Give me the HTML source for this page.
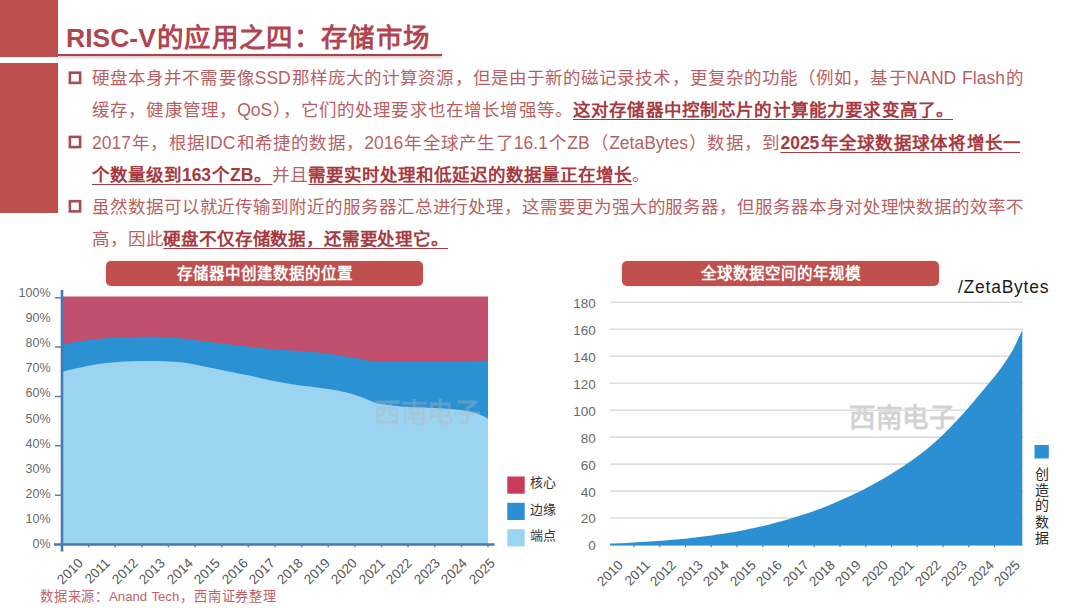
<!DOCTYPE html>
<html lang="zh-CN">
<head>
<meta charset="utf-8">
<title>RISC-V的应用之四：存储市场</title>
<style>
  html, body { margin: 0; padding: 0; background: #ffffff; }
  body { width: 1080px; height: 608px; overflow: hidden; font-family: "Liberation Sans", sans-serif; }
  #slide { position: relative; width: 1080px; height: 608px; background: #ffffff; overflow: hidden; }

  /* left decorative bar */
  .bar { position: absolute; left: 0; width: 58px; background: #c0504d; }
  .bar.top { top: 0; height: 56.8px; }
  .bar.main { top: 63.4px; height: 149.6px; }

  /* title */
  h1.title { position: absolute; margin: 0; left: 66px; top: 21px; width: 363px; height: 34px; line-height: 34px;
    font-size: 26.5px; font-weight: bold; color: #b24452; white-space: nowrap;
    text-align: justify; text-align-last: justify; }
  .title-rule { position: absolute; left: 58px; top: 53.5px; width: 384px; height: 2px; background: #a9434c;
    box-shadow: 0 1.5px 2.5px rgba(120,60,60,0.40); }

  /* bullet text */
  .line { position: absolute; left: 92px; height: 32px; line-height: 32px; font-size: 17.5px; color: #b85f64;
    white-space: nowrap; text-align: justify; text-align-last: justify; margin: 0; }
  .line b { color: #a63a40; font-weight: bold; text-decoration: underline; text-decoration-thickness: 1px;
    text-underline-offset: 3px; text-decoration-skip-ink: none; }

  /* chart captions */
  .pill { position: absolute; top: 261px; width: 317px; height: 25px; line-height: 25px; border-radius: 5px;
    background: #c0504d; box-shadow: 0 0 2.5px rgba(192,80,77,0.28); color: #ffffff; font-weight: bold; font-size: 15.5px; text-align: center; white-space: nowrap; }

  .ylab { position: absolute; font-size: 12.5px; color: #6a6a6a; text-align: right; height: 14px; line-height: 14px; white-space: nowrap; }
  .ylab.y2 { font-size: 13.5px; }
  .xlab { position: absolute; font-size: 13.5px; color: #575757; height: 14px; line-height: 14px; white-space: nowrap;
    transform-origin: 100% 50%; transform: rotate(-45deg); text-align: right; width: 40px; }
  .legend-sw { position: absolute; }
  .legend-tx { position: absolute; font-size: 13px; color: #333333; height: 16px; line-height: 16px; white-space: nowrap; }
  .legend-v { position: absolute; left: 1033.5px; width: 16px; text-align: center; font-size: 14px; color: #2b2b2b; height: 16px; line-height: 16px; }
  .wm { position: absolute; font-size: 26.5px; font-weight: bold; color: rgba(150,152,156,0.38); white-space: nowrap;
    height: 30px; line-height: 30px; width: 106px; text-align: justify; text-align-last: justify; }
  .wm.wm1 { color: rgba(178,180,190,0.40); }
  .wm.wm2 { color: #d2d2d5; }
  .unit { position: absolute; left: 958px; top: 275.7px; font-size: 17.5px; letter-spacing: 0.75px; color: #1c1c1c; height: 22px; line-height: 22px; white-space: nowrap; }
  .source { position: absolute; left: 40px; top: 588.5px; width: 236px; font-size: 13.2px; color: #c26266; height: 15px; line-height: 15px;
    white-space: nowrap; text-align: justify; text-align-last: justify; }
  svg { position: absolute; left: 0; top: 0; }
</style>
</head>
<body>
<div id="slide">
  <div class="bar top"></div>
  <div class="bar main"></div>

  <h1 class="title">RISC-V的应用之四：存储市场</h1>
  <div class="title-rule"></div>

  <!-- bullet 1 -->
  <p class="line" style="top:62px;width:931px">硬盘本身并不需要像SSD那样庞大的计算资源，但是由于新的磁记录技术，更复杂的功能（例如，基于NAND Flash的</p>
  <p class="line" style="top:94px;width:861px">缓存，健康管理，QoS），它们的处理要求也在增长增强等。<b>这对存储器中控制芯片的计算能力要求变高了。</b></p>
  <!-- bullet 2 -->
  <p class="line" style="top:126.5px;width:928px">2017年，根据IDC和希捷的数据，2016年全球产生了16.1个ZB（ZetaBytes）数据，到<b>2025年全球数据球体将增长一</b></p>
  <p class="line" style="top:158.5px;width:557px"><b>个数量级到163个ZB。</b>并且<b>需要实时处理和低延迟的数据量正在增长</b>。</p>
  <!-- bullet 3 -->
  <p class="line" style="top:191px;width:931px">虽然数据可以就近传输到附近的服务器汇总进行处理，这需要更为强大的服务器，但服务器本身对处理快数据的效率不</p>
  <p class="line" style="top:223px;width:356px">高，因此<b>硬盘不仅存储数据，还需要处理它。</b></p>

  <!-- CHARTS -->
  <div class="wm wm2" style="left:849px;top:403px">西南电子</div>
  <svg width="1080" height="608" viewBox="0 0 1080 608">
    <!-- chart 1: stacked area -->
    <rect x="62" y="296.5" width="426" height="248" fill="#c04f6d"/>
    <path id="c1-edge" fill="#2a91d2" d="M62.0,344.8 C64.5,344.3 70.6,342.7 76.7,341.7 C82.8,340.7 91.2,339.6 98.4,338.9 C105.6,338.2 112.8,337.7 120.1,337.3 C127.3,336.9 134.7,336.7 141.9,336.7 C149.2,336.7 156.4,336.7 163.6,337.1 C170.8,337.5 178.1,338.1 185.3,338.9 C192.5,339.7 199.8,340.8 207.0,341.7 C214.2,342.6 221.5,343.4 228.7,344.3 C235.9,345.2 243.5,346.1 250.4,346.9 C257.3,347.7 263.1,348.3 270.0,348.9 C276.9,349.5 284.5,349.9 291.7,350.4 C298.9,350.9 306.2,351.4 313.4,352.1 C320.6,352.8 327.9,353.7 335.1,354.7 C342.4,355.7 350.8,357.2 356.9,358.2 C363.0,359.2 364.8,360.3 372.0,360.9 C379.2,361.4 388.4,361.4 400.3,361.5 C412.2,361.6 429.1,361.6 443.7,361.5 C458.3,361.4 480.6,360.9 488.0,360.8 L488,544.5 L62,544.5 Z"/>
    <path id="c1-end" fill="#9bd4f0" d="M62.0,371.8 C64.5,371.2 70.6,369.5 76.7,368.2 C82.8,366.9 91.2,365.1 98.4,364.0 C105.6,362.9 112.8,362.2 120.1,361.7 C127.3,361.2 134.7,361.1 141.9,361.0 C149.2,360.9 156.4,360.9 163.6,361.2 C170.8,361.5 178.1,361.7 185.3,362.7 C192.5,363.7 199.8,365.7 207.0,367.1 C214.2,368.6 221.5,369.9 228.7,371.4 C235.9,372.8 243.5,374.3 250.4,375.8 C257.3,377.3 263.1,378.9 270.0,380.3 C276.9,381.7 284.5,383.1 291.7,384.2 C298.9,385.3 306.2,385.9 313.4,386.9 C320.6,387.9 327.9,388.7 335.1,390.1 C342.4,391.5 351.1,393.8 356.9,395.5 C362.7,397.2 366.3,399.2 369.9,400.6 C373.5,402.0 373.5,402.6 378.6,403.6 C383.7,404.6 393.1,405.8 400.3,406.4 C407.5,407.0 414.8,407.1 422.0,407.5 C429.2,407.9 436.5,408.1 443.7,408.6 C450.9,409.1 459.6,409.8 465.4,410.7 C471.2,411.6 474.7,412.7 478.5,414.0 C482.3,415.3 486.4,417.8 488.0,418.5 L488,544.5 L62,544.5 Z"/>
    <!-- axes -->
    <g stroke="#4679b4" stroke-width="2.6" fill="none">
      <path d="M62,290 V551.5"/>
      <path d="M54,544.5 H494.5"/>
    </g>
    <g stroke="#557fb3" stroke-width="1.5" fill="none">
      <path d="M55,297.8 H62 M55,347.1 H62 M55,396.4 H62 M55,445.8 H62 M55,495.2 H62"/>
      <path d="M88.6,544 V547.3 M115.2,544 V547.3 M141.9,544 V547.3 M168.5,544 V547.3 M195.1,544 V547.3 M221.8,544 V547.3 M248.4,544 V547.3 M275,544 V547.3 M301.6,544 V547.3 M328.3,544 V547.3 M354.9,544 V547.3 M381.5,544 V547.3 M408.1,544 V547.3 M434.8,544 V547.3 M461.4,544 V547.3 M488,544 V547.3"/>
    </g>

    <!-- chart 2 gridlines -->
    <g stroke="#dedede" stroke-width="1.6" fill="none">
      <path d="M610,302.3 H1023 M610,329.3 H1023 M610,356.2 H1023 M610,383.2 H1023 M610,410.2 H1023 M610,437.1 H1023 M610,464.1 H1023 M610,491.1 H1023 M610,518 H1023 M610,545 H1023"/>
    </g>
    <path id="c2-area" fill="#2a8fd3" d="M610.0,543.6 C611.3,543.5 615.3,543.4 617.9,543.2 C620.6,543.1 623.2,543.0 625.9,542.9 C628.5,542.8 631.1,542.6 633.8,542.5 C636.4,542.3 639.1,542.2 641.7,542.0 C644.4,541.9 647.0,541.7 649.6,541.6 C652.3,541.4 654.9,541.2 657.6,541.0 C660.2,540.8 662.9,540.6 665.5,540.4 C668.1,540.2 670.8,540.0 673.4,539.8 C676.1,539.5 678.7,539.3 681.4,539.0 C684.0,538.8 686.6,538.5 689.3,538.2 C691.9,537.9 694.6,537.6 697.2,537.3 C699.9,537.0 702.5,536.7 705.1,536.3 C707.8,536.0 710.4,535.6 713.1,535.3 C715.7,534.9 718.4,534.5 721.0,534.1 C723.6,533.7 726.3,533.3 728.9,532.8 C731.6,532.4 734.2,531.9 736.9,531.4 C739.5,531.0 742.1,530.5 744.8,529.9 C747.4,529.4 750.1,528.9 752.7,528.3 C755.4,527.7 758.0,527.2 760.6,526.5 C763.3,525.9 765.9,525.3 768.6,524.7 C771.2,524.0 773.9,523.3 776.5,522.6 C779.1,521.9 781.8,521.2 784.4,520.5 C787.1,519.7 789.7,518.9 792.4,518.1 C795.0,517.3 797.6,516.5 800.3,515.6 C802.9,514.8 805.6,513.9 808.2,513.0 C810.9,512.1 813.5,511.1 816.1,510.2 C818.8,509.2 821.4,508.2 824.1,507.2 C826.7,506.2 829.4,505.1 832.0,504.0 C834.7,502.9 837.3,501.8 839.9,500.6 C842.6,499.5 845.2,498.3 847.9,497.1 C850.5,495.9 853.2,494.6 855.8,493.3 C858.4,492.1 861.1,490.7 863.7,489.4 C866.4,488.0 869.0,486.6 871.7,485.2 C874.3,483.8 876.9,482.3 879.6,480.8 C882.2,479.3 884.9,477.8 887.5,476.2 C890.2,474.6 892.8,473.0 895.4,471.3 C898.1,469.6 900.7,467.9 903.4,466.2 C906.0,464.4 908.7,462.6 911.3,460.7 C913.9,458.8 916.6,456.9 919.2,454.9 C921.9,452.9 924.5,450.9 927.2,448.7 C929.8,446.5 932.4,444.3 935.1,442.0 C937.7,439.6 940.4,437.2 943.0,434.7 C945.7,432.1 948.3,429.5 950.9,426.8 C953.6,424.0 956.2,421.2 958.9,418.3 C961.5,415.4 964.2,412.4 966.8,409.4 C969.4,406.4 972.1,403.3 974.7,400.2 C977.4,397.0 980.0,393.9 982.7,390.7 C985.3,387.6 987.9,384.4 990.6,381.2 C993.2,378.0 995.9,374.9 998.5,371.4 C1001.2,367.9 1003.8,364.4 1006.4,360.3 C1009.1,356.2 1011.7,351.9 1014.4,346.9 C1017.0,341.8 1021.0,332.8 1022.3,330.0 L1022.3,545.6 L610,545.6 Z"/>
    <g stroke="#3b86c2" stroke-width="1.2" fill="none">
      <path d="M634.0,545 V547.3 M659.8,545 V547.3 M685.5,545 V547.3 M711.2,545 V547.3 M737.0,545 V547.3 M762.8,545 V547.3 M788.5,545 V547.3 M814.2,545 V547.3 M840.0,545 V547.3 M865.8,545 V547.3 M891.5,545 V547.3 M917.2,545 V547.3 M943.0,545 V547.3 M968.8,545 V547.3 M994.5,545 V547.3"/>
    </g>
    <!-- bullet markers -->
    <g fill="none" stroke="#a84c53" stroke-width="2.6">
      <rect x="69.9" y="72.7" width="10.2" height="10.2"/>
      <rect x="69.9" y="136.9" width="10.2" height="10.2"/>
      <rect x="69.9" y="201.2" width="10.2" height="10.2"/>
    </g>
    <!-- legends -->
    <rect x="507.3" y="476.5" width="17.4" height="17.2" fill="#c93a5c"/>
    <rect x="507.3" y="502.8" width="17.4" height="17.2" fill="#2a8fd3"/>
    <rect x="507.3" y="529.2" width="17.4" height="17.2" fill="#9bd4f0"/>
    <rect x="1034.5" y="445" width="14.3" height="13.5" fill="#2a8fd3"/>
  </svg>

  <div class="pill" style="left:106px">存储器中创建数据的位置</div>
  <div class="pill" style="left:622px">全球数据空间的年规模</div>
  <div class="unit">/ZetaBytes</div>

  <div class="wm wm1" style="left:374px;top:398px">西南电子</div>

  <div id="c1-ylabels"><div class="ylab" style="left:6.6px;top:537.0px;width:44px">0%</div><div class="ylab" style="left:6.6px;top:511.9px;width:44px">10%</div><div class="ylab" style="left:6.6px;top:486.8px;width:44px">20%</div><div class="ylab" style="left:6.6px;top:461.7px;width:44px">30%</div><div class="ylab" style="left:6.6px;top:436.6px;width:44px">40%</div><div class="ylab" style="left:6.6px;top:411.5px;width:44px">50%</div><div class="ylab" style="left:6.6px;top:386.4px;width:44px">60%</div><div class="ylab" style="left:6.6px;top:361.3px;width:44px">70%</div><div class="ylab" style="left:6.6px;top:336.2px;width:44px">80%</div><div class="ylab" style="left:6.6px;top:311.1px;width:44px">90%</div><div class="ylab" style="left:6.6px;top:286.0px;width:44px">100%</div></div>
  <div id="c2-ylabels"><div class="ylab y2" style="left:551.8px;top:539.4px;width:44px">0</div><div class="ylab y2" style="left:551.8px;top:512.4px;width:44px">20</div><div class="ylab y2" style="left:551.8px;top:485.5px;width:44px">40</div><div class="ylab y2" style="left:551.8px;top:458.5px;width:44px">60</div><div class="ylab y2" style="left:551.8px;top:431.5px;width:44px">80</div><div class="ylab y2" style="left:551.8px;top:404.5px;width:44px">100</div><div class="ylab y2" style="left:551.8px;top:377.6px;width:44px">120</div><div class="ylab y2" style="left:551.8px;top:350.6px;width:44px">140</div><div class="ylab y2" style="left:551.8px;top:323.6px;width:44px">160</div><div class="ylab y2" style="left:551.8px;top:296.7px;width:44px">180</div></div>
  <div id="c1-xlabels"><div class="xlab" style="left:40.7px;top:553.5px">2010</div><div class="xlab" style="left:68.2px;top:553.5px">2011</div><div class="xlab" style="left:95.6px;top:553.5px">2012</div><div class="xlab" style="left:123.1px;top:553.5px">2013</div><div class="xlab" style="left:150.6px;top:553.5px">2014</div><div class="xlab" style="left:178.1px;top:553.5px">2015</div><div class="xlab" style="left:205.5px;top:553.5px">2016</div><div class="xlab" style="left:233.0px;top:553.5px">2017</div><div class="xlab" style="left:260.5px;top:553.5px">2018</div><div class="xlab" style="left:287.9px;top:553.5px">2019</div><div class="xlab" style="left:315.4px;top:553.5px">2020</div><div class="xlab" style="left:342.9px;top:553.5px">2021</div><div class="xlab" style="left:370.3px;top:553.5px">2022</div><div class="xlab" style="left:397.8px;top:553.5px">2023</div><div class="xlab" style="left:425.3px;top:553.5px">2024</div><div class="xlab" style="left:452.7px;top:553.5px">2025</div></div>
  <div id="c2-xlabels"><div class="xlab" style="left:581.4px;top:555.6px">2010</div><div class="xlab" style="left:607.9px;top:555.6px">2011</div><div class="xlab" style="left:634.3px;top:555.6px">2012</div><div class="xlab" style="left:660.8px;top:555.6px">2013</div><div class="xlab" style="left:687.2px;top:555.6px">2014</div><div class="xlab" style="left:713.6px;top:555.6px">2015</div><div class="xlab" style="left:740.1px;top:555.6px">2016</div><div class="xlab" style="left:766.5px;top:555.6px">2017</div><div class="xlab" style="left:793.0px;top:555.6px">2018</div><div class="xlab" style="left:819.4px;top:555.6px">2019</div><div class="xlab" style="left:845.9px;top:555.6px">2020</div><div class="xlab" style="left:872.3px;top:555.6px">2021</div><div class="xlab" style="left:898.8px;top:555.6px">2022</div><div class="xlab" style="left:925.2px;top:555.6px">2023</div><div class="xlab" style="left:951.7px;top:555.6px">2024</div><div class="xlab" style="left:978.1px;top:555.6px">2025</div></div>

  <div class="legend-tx" style="left:530px;top:475px">核心</div>
  <div class="legend-tx" style="left:530px;top:501.5px">边缘</div>
  <div class="legend-tx" style="left:530px;top:528px">端点</div>

  <div class="legend-v" style="top:465.5px">创</div>
  <div class="legend-v" style="top:481.5px">造</div>
  <div class="legend-v" style="top:497.3px">的</div>
  <div class="legend-v" style="top:513.9px">数</div>
  <div class="legend-v" style="top:530.4px">据</div>

  <div class="source">数据来源：Anand Tech，西南证券整理</div>
</div>
</body>
</html>
